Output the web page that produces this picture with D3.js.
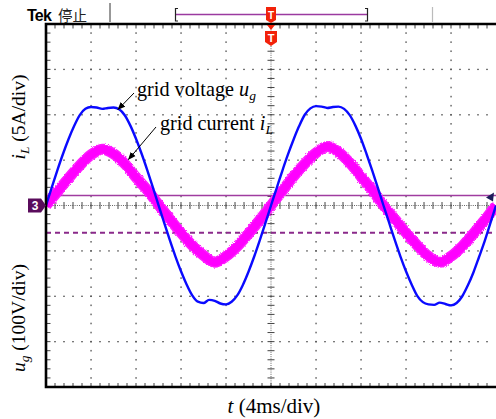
<!DOCTYPE html>
<html>
<head>
<meta charset="utf-8">
<script src="https://cdn.jsdelivr.net/npm/d3@7/dist/d3.min.js"></script>
<style>
  html, body { margin: 0; padding: 0; background: #fff; }
  svg { display: block; }
</style>
</head>
<body>
<svg id="scope" width="496" height="419"></svg>
<script>
// Sample step of both traces (ms)
const voltageStepMs = 0.5;
const currentStepMs = 1;

// Grid voltage u_g (V), sampled every 0.5 ms over 0..40 ms
const gridVoltage = [
  0, 39, 77, 113, 146, 175, 199, 213, 217, 216, 213, 215, 216, 212, 199, 176, 147, 114, 78, 40,
  1, -38, -76, -112, -145, -174, -198, -212, -215, -208, -210, -216, -218, -212, -198, -175, -146, -113, -77, -39,
  0, 38, 76, 112, 145, 175, 200, 214, 219, 218, 215, 217, 218, 213, 199, 176, 147, 113, 77, 39,
  0, -38, -76, -112, -145, -174, -199, -213, -218, -219, -214, -217, -220, -215, -200, -176, -147, -113, -78, -39,
  0
];

// Grid current i_L (A), sampled every 1 ms over 0..40 ms
const gridCurrent = [
  0, 1.5, 3.0, 4.4, 5.6, 6.2, 5.7, 4.6, 3.1, 1.7,
  0.1, -1.5, -3.0, -4.4, -5.5, -6.25, -5.6, -4.5, -3.1, -1.6,
  0, 1.6, 3.2, 4.6, 5.8, 6.5, 5.9, 4.7, 3.2, 1.7,
  0, -1.5, -3.0, -4.4, -5.6, -6.25, -5.6, -4.5, -3.1, -1.6,
  0
];

// Screen divisions
const timeDivMs = 4, voltDiv = 100, ampDiv = 5;
const hDivs = 10, vDivs = 8, minorPerDiv = 5;

// Reference levels (V) of the two horizontal cursors
const cursorSolidV = 22;
const cursorDashedV = -60;

const svg = d3.select("#scope");
const L = 46, R = 496, T = 24, B = 387;

const x = d3.scaleLinear().domain([0, hDivs * timeDivMs]).range([L, R]);
const yV = d3.scaleLinear().domain([-vDivs / 2 * voltDiv, vDivs / 2 * voltDiv]).range([B, T]);
const yI = d3.scaleLinear().domain([-vDivs / 2 * ampDiv, vDivs / 2 * ampDiv]).range([B, T]);

const minorT = d3.range(0, hDivs * minorPerDiv + 1).map(k => k * timeDivMs / minorPerDiv);
const minorV = d3.range(0, vDivs * minorPerDiv + 1).map(k => -vDivs / 2 * voltDiv + k * voltDiv / minorPerDiv);
const majorT = d3.range(1, hDivs).map(k => k * timeDivMs);
const majorV = d3.range(1, vDivs).map(k => -vDivs / 2 * voltDiv + k * voltDiv);
const centerT = hDivs / 2 * timeDivMs;

// ---------- graticule ----------
const grid = svg.append("g").attr("fill", "#555");
// dotted major lines
majorT.filter(t => t !== centerT).forEach(t => {
  minorV.slice(1, -1).forEach(v => {
    grid.append("rect").attr("x", x(t) - 0.6).attr("y", yV(v) - 0.8).attr("width", 1.3).attr("height", 1.6);
  });
});
majorV.filter(v => v !== 0).forEach(v => {
  minorT.slice(1, -1).forEach(t => {
    grid.append("rect").attr("x", x(t) - 0.8).attr("y", yV(v) - 0.6).attr("width", 1.6).attr("height", 1.3);
  });
});
// centre cross with minor ticks
svg.append("line").attr("x1", L).attr("x2", R).attr("y1", yV(0)).attr("y2", yV(0))
  .attr("stroke", "#666").attr("stroke-width", 1).attr("stroke-dasharray", "1,1.2");
svg.append("line").attr("x1", x(centerT)).attr("x2", x(centerT)).attr("y1", T).attr("y2", B)
  .attr("stroke", "#666").attr("stroke-width", 1).attr("stroke-dasharray", "1,1.2");
const ticks = svg.append("g").attr("stroke", "#444").attr("stroke-width", 1);
minorT.slice(1, -1).forEach(t => {
  ticks.append("line").attr("x1", x(t)).attr("x2", x(t)).attr("y1", yV(0) - 3.5).attr("y2", yV(0) + 3.5);
  ticks.append("line").attr("x1", x(t)).attr("x2", x(t)).attr("y1", T).attr("y2", T + 4.5);
  ticks.append("line").attr("x1", x(t)).attr("x2", x(t)).attr("y1", B).attr("y2", B - 4);
});
minorV.slice(1, -1).forEach(v => {
  ticks.append("line").attr("x1", x(centerT) - 3.5).attr("x2", x(centerT) + 3.5).attr("y1", yV(v)).attr("y2", yV(v));
  ticks.append("line").attr("x1", L).attr("x2", L + 4.5).attr("y1", yV(v)).attr("y2", yV(v));
});

// ---------- cursors ----------
svg.append("line").attr("x1", L).attr("x2", R).attr("y1", yV(cursorSolidV)).attr("y2", yV(cursorSolidV))
  .attr("stroke", "#a03ca0").attr("stroke-width", 1.6);
svg.append("line").attr("x1", L).attr("x2", R).attr("y1", yV(cursorDashedV)).attr("y2", yV(cursorDashedV))
  .attr("stroke", "#8a2a8a").attr("stroke-width", 1.8).attr("stroke-dasharray", "5,4");

// ---------- traces ----------
const defs = svg.append("defs");
const noise = defs.append("filter").attr("id", "rough")
  .attr("filterUnits", "userSpaceOnUse").attr("x", 0).attr("y", 0).attr("width", 496).attr("height", 419);
noise.append("feTurbulence").attr("type", "fractalNoise").attr("baseFrequency", 0.9).attr("numOctaves", 2).attr("seed", 3).attr("result", "n");
noise.append("feDisplacementMap").attr("in", "SourceGraphic").attr("in2", "n").attr("scale", 3)
  .attr("xChannelSelector", "R").attr("yChannelSelector", "G");

const clip = defs.append("clipPath").attr("id", "screen");
clip.append("rect").attr("x", L).attr("y", T).attr("width", R - L).attr("height", B - T);

const traces = svg.append("g").attr("clip-path", "url(#screen)");

const currentLine = d3.line()
  .x((d, i) => x(i * currentStepMs)).y(d => yI(d))
  .curve(d3.curveCatmullRom.alpha(0.5));
traces.append("path").datum(gridCurrent).attr("d", currentLine)
  .attr("fill", "none").attr("stroke", "#ff1aff").attr("stroke-width", 11)
  .attr("filter", "url(#rough)");
traces.append("path").datum(gridCurrent).attr("d", currentLine)
  .attr("fill", "none").attr("stroke", "#ff00ff").attr("stroke-width", 8);

const voltageLine = d3.line()
  .x((d, i) => x(i * voltageStepMs)).y(d => yV(d))
  .curve(d3.curveMonotoneX);
traces.append("path").datum(gridVoltage).attr("d", voltageLine)
  .attr("fill", "none").attr("stroke", "#0a0aff").attr("stroke-width", 2.4)
  .attr("stroke-linejoin", "round");

// ---------- frame ----------
svg.append("path")
  .attr("d", `M${R},${T}H${L}V${B}H${R}`)
  .attr("fill", "none").attr("stroke", "#000").attr("stroke-width", 2.6);

// ---------- top status bar ----------
svg.append("text").attr("x", 27).attr("y", 21)
  .attr("font-family", "Liberation Sans, Arial, sans-serif").attr("font-weight", "bold")
  .attr("font-size", 16).attr("letter-spacing", -0.8).text("Tek");
svg.append("text").attr("x", 58).attr("y", 21)
  .attr("font-family", "Noto Sans CJK SC, sans-serif").attr("font-size", 14.5).attr("fill", "#222").text("停止");
svg.append("line").attr("x1", 110).attr("x2", 110).attr("y1", 3).attr("y2", 22).attr("stroke", "#333").attr("stroke-width", 1);
svg.append("line").attr("x1", 432.5).attr("x2", 432.5).attr("y1", 7).attr("y2", 22).attr("stroke", "#bbb").attr("stroke-width", 1.2);
svg.append("line").attr("x1", 176).attr("x2", 367).attr("y1", 14.5).attr("y2", 14.5).attr("stroke", "#9b3aa0").attr("stroke-width", 1.6);
svg.append("path").attr("d", "M178,8.5H175.5V21H178").attr("fill", "none").attr("stroke", "#222").attr("stroke-width", 1.2);
svg.append("path").attr("d", "M365,8.5H367.5V21H365").attr("fill", "none").attr("stroke", "#222").attr("stroke-width", 1.2);

// trigger position markers
const tx = x(centerT);
svg.append("path").attr("d", `M${tx - 5},7H${tx + 5}V20L${tx},23L${tx - 5},20Z`).attr("fill", "#f2220a");
svg.append("text").attr("x", tx).attr("y", 19).attr("text-anchor", "middle")
  .attr("font-family", "Liberation Sans, Arial, sans-serif").attr("font-weight", "bold")
  .attr("font-size", 10).attr("fill", "#fff").text("T");
svg.append("path").attr("d", `M${tx - 4},25H${tx + 4}L${tx},30Z`).attr("fill", "#f2220a");
svg.append("path").attr("d", `M${tx - 6},31H${tx + 6}V42L${tx},46L${tx - 6},42Z`).attr("fill", "#f2220a");
svg.append("text").attr("x", tx).attr("y", 42).attr("text-anchor", "middle")
  .attr("font-family", "Liberation Sans, Arial, sans-serif").attr("font-weight", "bold")
  .attr("font-size", 11).attr("fill", "#fff").text("T");

// channel 3 ground marker
const y0 = yV(0);
svg.append("path").attr("d", `M28,${y0 - 7}H41L46,${y0}L41,${y0 + 7}H28Z`).attr("fill", "#5a0c5c");
svg.append("text").attr("x", 35).attr("y", y0 + 4.5).attr("text-anchor", "middle")
  .attr("font-family", "Liberation Sans, Arial, sans-serif").attr("font-weight", "bold")
  .attr("font-size", 12).attr("fill", "#fff").text("3");
// cursor end arrow
const yc = yV(cursorSolidV);
svg.append("path").attr("d", `M486,${yc + 2}L494,${yc - 3}L493,${yc + 6}Z`).attr("fill", "#1c1c5a");

// ---------- annotations ----------
const serif = "Liberation Serif, Times New Roman, serif";
defs.append("marker").attr("id", "head").attr("viewBox", "0 0 10 10").attr("refX", 9).attr("refY", 5)
  .attr("markerWidth", 8).attr("markerHeight", 8).attr("markerUnits", "userSpaceOnUse").attr("orient", "auto")
  .append("path").attr("d", "M0,1L10,5L0,9Z").attr("fill", "#000");

svg.append("line").attr("x1", 134).attr("y1", 93).attr("x2", 118).attr("y2", 109.5)
  .attr("stroke", "#000").attr("stroke-width", 1).attr("marker-end", "url(#head)");
svg.append("line").attr("x1", 156).attr("y1", 127).attr("x2", 128.5).attr("y2", 159.5)
  .attr("stroke", "#000").attr("stroke-width", 1).attr("marker-end", "url(#head)");

const lab1 = svg.append("text").attr("x", 137).attr("y", 96).attr("font-family", serif).attr("font-size", 20.2);
lab1.append("tspan").text("grid voltage ");
lab1.append("tspan").attr("font-style", "italic").text("u");
lab1.append("tspan").attr("font-style", "italic").attr("font-size", 13.5).attr("dy", 4).text("g");

const lab2 = svg.append("text").attr("x", 160).attr("y", 130).attr("font-family", serif).attr("font-size", 20.2);
lab2.append("tspan").text("grid current ");
lab2.append("tspan").attr("font-style", "italic").text("i");
lab2.append("tspan").attr("font-style", "italic").attr("font-size", 13.5).attr("dy", 4).text("L");

// axis titles
const yTitle1 = svg.append("text").attr("transform", "translate(25,117) rotate(-90)")
  .attr("text-anchor", "middle").attr("font-family", serif).attr("font-size", 19.5);
yTitle1.append("tspan").attr("font-style", "italic").text("i");
yTitle1.append("tspan").attr("font-style", "italic").attr("font-size", 13.5).attr("dy", 4).text("L");
yTitle1.append("tspan").attr("dy", -4).text(" (5A/div)");

const yTitle2 = svg.append("text").attr("transform", "translate(25,318) rotate(-90)")
  .attr("text-anchor", "middle").attr("font-family", serif).attr("font-size", 19.5);
yTitle2.append("tspan").attr("font-style", "italic").text("u");
yTitle2.append("tspan").attr("font-style", "italic").attr("font-size", 13.5).attr("dy", 4).text("g");
yTitle2.append("tspan").attr("dy", -4).text(" (100V/div)");

const xTitle = svg.append("text").attr("x", 274).attr("y", 413)
  .attr("text-anchor", "middle").attr("font-family", serif).attr("font-size", 21);
xTitle.append("tspan").attr("font-style", "italic").text("t");
xTitle.append("tspan").text(" (4ms/div)");
</script>
</body>
</html>
